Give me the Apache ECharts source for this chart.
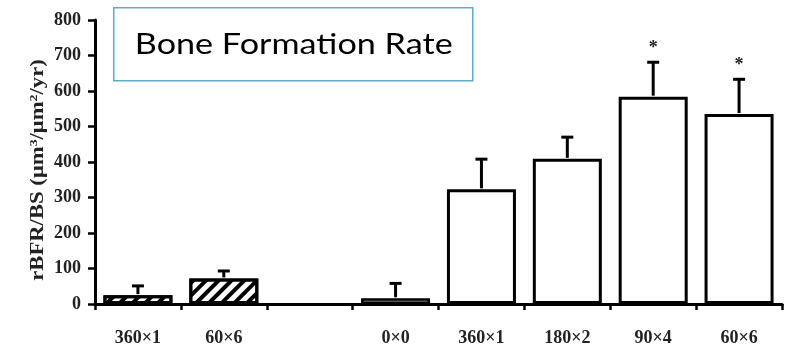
<!DOCTYPE html>
<html>
<head>
<meta charset="utf-8">
<script src="https://cdn.jsdelivr.net/npm/echarts@6/dist/echarts.min.js"></script>
<style>html,body{margin:0;padding:0;background:#fff;}#c{width:790px;height:351px;}</style>
</head>
<body>
<div id="c"></div>
<script>
// ---- data ----
const categories = ['360×1', '60×6', '', '0×0', '360×1', '180×2', '90×4', '60×6'];
const means      = [25, 72, null, 16, 323, 409, 584, 535];
const errors     = [26, 21, null, 42, 85, 61, 97, 98];
const marks      = ['', '', '', '', '', '', '*', '*'];
const yTicks     = [0, 800, 100]; // min, max, interval
const titleText  = 'Bone Formation Rate';
const yName      = 'rBFR/BS (μm{sup|3}/μm{sup|2}/yr)';

// ---- styles per group ----
const hatched = [0, 1], grey = [3];
const serif = 'Liberation Serif';

function itemStyleFor(i) {
  const base = { color: '#fff', borderColor: '#000', borderWidth: 3 };
  if (hatched.includes(i)) {
    base.decal = { symbol: 'rect', color: '#000', dashArrayX: [1, 0], dashArrayY: [3.5, 4.5], rotation: -Math.PI / 4, symbolSize: 1 };
  } else if (grey.includes(i)) {
    base.color = '#a8a8a8';
    base.borderWidth = 2.5;
  }
  return base;
}

const barData = means.map((v, i) => v == null ? '-' : { value: v, itemStyle: itemStyleFor(i) });
const errData = means.map((v, i) => v == null ? null : [i, v, v + errors[i]]).filter(d => d);

const chart = echarts.init(document.getElementById('c'), null, { renderer: 'canvas' });
chart.setOption({
  animation: false,
  grid: { left: 95, right: 8, top: 20, bottom: 47, containLabel: false },
  xAxis: {
    type: 'category',
    data: categories,
    axisLine: { lineStyle: { color: '#000', width: 3 } },
    axisTick: { show: true, length: 6, lineStyle: { color: '#000', width: 2.5 } },
    axisLabel: { color: '#222', fontFamily: serif, fontWeight: 'bold', fontSize: 18, margin: 25 },
    splitLine: { show: false }
  },
  yAxis: {
    type: 'value',
    min: yTicks[0], max: yTicks[1], interval: yTicks[2],
    axisLine: { show: true, lineStyle: { color: '#000', width: 3 } },
    axisTick: { show: true, length: 7, lineStyle: { color: '#000', width: 2.5 } },
    axisLabel: { color: '#222', fontFamily: serif, fontWeight: 'bold', fontSize: 18, margin: 14 },
    splitLine: { show: false }
  },
  series: [
    {
      type: 'bar',
      data: barData,
      barWidth: 69,
      z: 2
    },
    {
      type: 'custom',
      data: errData,
      encode: { x: 0, y: [1, 2] },
      z: 3,
      renderItem: function (params, api) {
        const i = api.value(0);
        const p0 = api.coord([i, api.value(1)]);
        const p1 = api.coord([i, api.value(2)]);
        const style = { stroke: '#000', lineWidth: 3 };
        const children = [
          { type: 'line', shape: { x1: p0[0], y1: p0[1] - 1, x2: p1[0], y2: p1[1] }, style: style },
          { type: 'line', shape: { x1: p1[0] - 6, y1: p1[1], x2: p1[0] + 6, y2: p1[1] }, style: style }
        ];
        if (marks[i]) {
          children.push({ type: 'text', x: p1[0], y: p1[1] - 14,
            style: { text: marks[i], fill: '#222', font: 'bold 18px ' + serif, align: 'center', verticalAlign: 'middle' } });
        }
        return { type: 'group', children: children };
      }
    }
  ],
  graphic: [
    {
      type: 'group', left: 113, top: 7,
      children: [
        { type: 'rect', shape: { x: 0, y: 0, width: 359, height: 73 }, style: { fill: '#fff', stroke: '#5aaec8', lineWidth: 1.5 } },
        { type: 'text', x: 180, y: 37, scaleX: 1.22, style: { text: titleText, fill: '#000', font: '28px Lato', align: 'center', verticalAlign: 'middle' } }
      ]
    },
    {
      type: 'text', x: 38, y: 170, rotation: Math.PI / 2, scaleX: 1.26,
      style: {
        text: yName, fill: '#222', font: 'bold 18px ' + serif, align: 'center', verticalAlign: 'middle',
        rich: { sup: { font: 'bold 11px ' + serif, verticalAlign: 'top', fill: '#222' } }
      }
    }
  ]
});
</script>
</body>
</html>
